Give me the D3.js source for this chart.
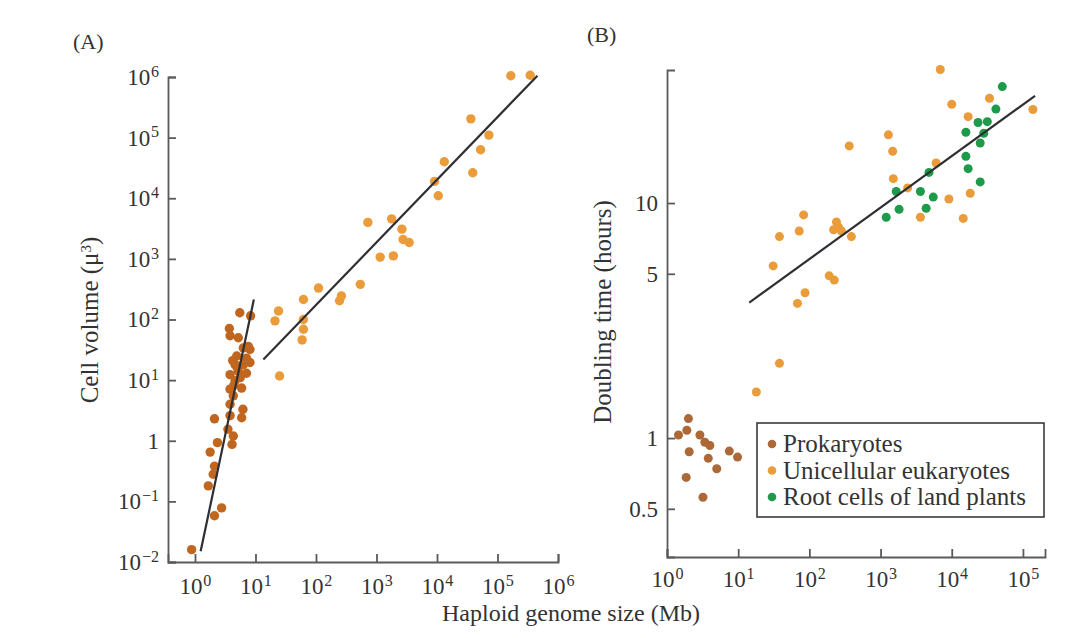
<!DOCTYPE html>
<html lang="en">
<head>
    <meta charset="UTF-8">
    <title>Genome size vs cell volume and doubling time</title>
    <script src="https://d3js.org/d3.v7.min.js"></script>
    <style>
        html, body {
            margin: 0;
            background: #fff;
        }
        svg text {
            font-family: "Liberation Serif", "Times New Roman", serif;
            fill: #333;
        }
        .axis path, .axis line {
            stroke: #5a5a5a;
            stroke-width: 1.8;
        }
    </style>
</head>
<body>
    <div id="vis"></div>

    <script>

        /*
         *  DATA
         */
        // panel A: [haploid genome size (Mb), cell volume (u^3)]
        var volumeProkaryotes = [
            [0.88, 0.016], [2.1, 0.058], [2.75, 0.078], [1.66, 0.18], [2.0, 0.28],
            [2.1, 0.38], [1.78, 0.65], [2.35, 0.93], [2.1, 2.3], [4.1, 0.87],
            [4.3, 1.2], [3.5, 1.55], [5.9, 2.4], [6.2, 3.3], [3.8, 2.6],
            [3.8, 4.0], [4.3, 5.5], [3.8, 7.1], [5.9, 7.4], [4.6, 9.8],
            [3.8, 12.3], [5.2, 14], [7.1, 13], [4.6, 18], [6.3, 18],
            [8.1, 19.5], [4.9, 25], [7.1, 23], [4.2, 21], [8.1, 32],
            [3.8, 54], [5.2, 50], [3.7, 71], [5.5, 129], [8.3, 115],
            [7.6, 36], [6.3, 34], [5.0, 16], [5.6, 11], [4.4, 8.3]
        ];
        var volumeEukaryotes = [
            [25, 11.7], [21, 95], [24, 138], [62, 214], [62, 100],
            [62, 69], [59, 46], [110, 330], [245, 204], [263, 245],
            [540, 380], [1150, 1070], [1900, 1120], [720, 4000], [1780, 4570],
            [2630, 3090], [2750, 2090], [3470, 1860], [9100, 19000], [10500, 11000],
            [13200, 40000], [36300, 204000], [72000, 110000], [52500, 63000], [39000, 26300],
            [166000, 1050000], [347000, 1070000]
        ];
        var volumeFitProk = [[1.24, 0.015], [9.4, 214]];
        var volumeFitEuk = [[13.5, 21.9], [457000, 1050000]];

        // panel B: [haploid genome size (Mb), doubling time (hours)]
        var timeProkaryotes = [
            [1.45, 1.03], [2.0, 1.21], [1.9, 1.08], [2.9, 1.03], [3.4, 0.96],
            [4.0, 0.93], [2.05, 0.875], [3.8, 0.82], [5.0, 0.74], [1.86, 0.68],
            [3.2, 0.56], [7.5, 0.88], [9.8, 0.83]
        ];
        var timeEukaryotes = [
            [18, 1.57], [38, 2.08], [68, 3.74], [87, 4.15], [31, 5.4],
            [38, 7.2], [72, 7.6], [83, 8.9], [190, 4.9], [224, 4.7],
            [219, 7.7], [257, 7.9], [240, 8.3], [282, 7.6], [389, 7.2],
            [363, 17.5], [1290, 19.5], [1480, 16.6], [1510, 12.7], [2400, 11.6],
            [6030, 14.8], [3630, 8.7], [9120, 10.4], [6900, 37], [10000, 26.3],
            [17000, 23.3], [33900, 27.9], [18200, 11], [14500, 8.6], [138000, 25]
        ];
        var timePlants = [
            [1200, 8.7], [1820, 9.4], [1660, 11.2], [3630, 11.2], [5500, 10.6],
            [4370, 9.5], [4790, 13.5], [15800, 20], [15800, 15.8], [17000, 14],
            [25100, 12.3], [23400, 22], [31600, 22.2], [28200, 19.8], [25100, 18],
            [41700, 25.1], [51300, 31.3]
        ];
        var timeFit = [[14.3, 3.77], [148000, 28.6]];

        // ticks
        var volumeTicks = [1e-2, 1e-1, 1, 1e1, 1e2, 1e3, 1e4, 1e5, 1e6];
        var genomeTicksA = [1, 1e1, 1e2, 1e3, 1e4, 1e5, 1e6];
        var genomeTicksB = [1, 1e1, 1e2, 1e3, 1e4, 1e5];
        var timeTicks = [0.5, 1, 5, 10];

        var legendLabels = ["Prokaryotes", "Unicellular eukaryotes", "Root cells of land plants"];
        var legendColours = ["#ac6837", "#eb9c3a", "#1d9a4a"];
        var prokColourA = "#c0661f";

        /*
         *  SETUP
         */
        var svg = d3.select("#vis")
            .append("svg")
                .attr("width", 1083)
                .attr("height", 638);

        // panel A scales
        var xA = d3.scaleLog().domain([Math.pow(10, -0.446), 1e6]).range([168, 558]);
        var yA = d3.scaleLog().domain([1e-2, 1e6]).range([562, 77]);
        // panel B scales
        var xB = d3.scaleLog().domain([1, Math.pow(10, 5.31)]).range([667, 1045]);
        var yB = d3.scaleLog().domain([Math.pow(10, -0.506), Math.pow(10, 1.566)]).range([557, 70]);

        // writes 10^n as text with a raised exponent
        function powerLabel(sel, plainOne) {
            sel.each(function(d) {
                var t = d3.select(this).text(null);
                var e = Math.round(Math.log10(d));
                if (plainOne && e === 0) { t.text("1"); return; }
                t.append("tspan").text("10");
                t.append("tspan")
                    .attr("dx", "0.05em")
                    .attr("dy", "-0.5em")
                    .attr("font-size", "0.7em")
                    .text(e < 0 ? "\u2212" + (-e) : e);
            });
        }

        function drawAxis(axis, transform) {
            var g = svg.append("g")
                .attr("class", "axis")
                .attr("transform", transform)
                .call(axis);
            g.selectAll(".tick text")
                .attr("font-size", 23)
                .attr("fill", "#333");
            return g;
        }

        /*
         *  PANEL A
         */
        drawAxis(d3.axisLeft(yA).tickValues(volumeTicks).tickSize(-8).tickSizeOuter(-8).tickPadding(9),
                "translate(168,0)")
            .selectAll(".tick text").call(powerLabel, true);

        drawAxis(d3.axisBottom(xA).tickValues(genomeTicksA).tickSize(-8).tickSizeOuter(-8).tickPadding(16),
                "translate(0,562)")
            .selectAll(".tick text").call(powerLabel, false);

        var line = function(xs, ys) {
            return d3.line()
                .x(function(d) { return xs(d[0]); })
                .y(function(d) { return ys(d[1]); });
        };

        svg.append("g").selectAll("circle")
            .data(volumeEukaryotes)
            .enter().append("circle")
                .attr("cx", function(d) { return xA(d[0]); })
                .attr("cy", function(d) { return yA(d[1]); })
                .attr("r", 4.7)
                .attr("fill", legendColours[1]);

        svg.append("g").selectAll("circle")
            .data(volumeProkaryotes)
            .enter().append("circle")
                .attr("cx", function(d) { return xA(d[0]); })
                .attr("cy", function(d) { return yA(d[1]); })
                .attr("r", 4.7)
                .attr("fill", prokColourA);

        [volumeFitProk, volumeFitEuk].forEach(function(fit) {
            svg.append("path")
                .datum(fit)
                .attr("fill", "none")
                .attr("stroke", "#2f2f33")
                .attr("stroke-width", 2.2)
                .attr("d", line(xA, yA));
        });

        svg.append("text")
            .attr("x", 73).attr("y", 49)
            .attr("font-size", 22)
            .text("(A)");

        var volTitle = svg.append("text")
            .attr("transform", "translate(98,320) rotate(-90)")
            .attr("text-anchor", "middle")
            .attr("font-size", 25);
        volTitle.append("tspan").text("Cell volume (\u03bc");
        volTitle.append("tspan").attr("dy", "-0.45em").attr("font-size", "0.6em").text("3");
        volTitle.append("tspan").attr("dy", "0.27em").text(")");

        /*
         *  PANEL B
         */
        var yAxisB = drawAxis(d3.axisLeft(yB).tickValues(timeTicks).tickSize(-8).tickSizeOuter(-8).tickPadding(9),
                "translate(667,0)");
        yAxisB.selectAll(".tick text").text(function(d) { return d; });

        drawAxis(d3.axisBottom(xB).tickValues(genomeTicksB).tickSize(-8).tickSizeOuter(-8).tickPadding(14),
                "translate(0,557)")
            .selectAll(".tick text").call(powerLabel, false);

        var seriesB = [timeProkaryotes, timeEukaryotes, timePlants];
        seriesB.forEach(function(series, i) {
            svg.append("g").selectAll("circle")
                .data(series)
                .enter().append("circle")
                    .attr("cx", function(d) { return xB(d[0]); })
                    .attr("cy", function(d) { return yB(d[1]); })
                    .attr("r", 4.5)
                    .attr("fill", legendColours[i]);
        });

        svg.append("path")
            .datum(timeFit)
            .attr("fill", "none")
            .attr("stroke", "#2f2f33")
            .attr("stroke-width", 2.2)
            .attr("d", line(xB, yB));

        svg.append("text")
            .attr("x", 587).attr("y", 42)
            .attr("font-size", 22)
            .text("(B)");

        svg.append("text")
            .attr("transform", "translate(611,312) rotate(-90)")
            .attr("text-anchor", "middle")
            .attr("font-size", 25)
            .text("Doubling time (hours)");

        // legend
        var legend = svg.append("g").attr("transform", "translate(757,423)");
        legend.append("rect")
            .attr("width", 287).attr("height", 94)
            .attr("fill", "#fff")
            .attr("stroke", "#3a3a3a")
            .attr("stroke-width", 1.6);
        legendLabels.forEach(function(label, i) {
            legend.append("circle")
                .attr("cx", 15).attr("cy", 21 + i * 26.5)
                .attr("r", 4.3)
                .attr("fill", legendColours[i]);
            legend.append("text")
                .attr("x", 26).attr("y", 29 + i * 26.5)
                .attr("font-size", 25)
                .text(label);
        });

        // shared x title
        svg.append("text")
            .attr("x", 571).attr("y", 621)
            .attr("text-anchor", "middle")
            .attr("font-size", 24)
            .text("Haploid genome size (Mb)");

    </script>
</body>
</html>
